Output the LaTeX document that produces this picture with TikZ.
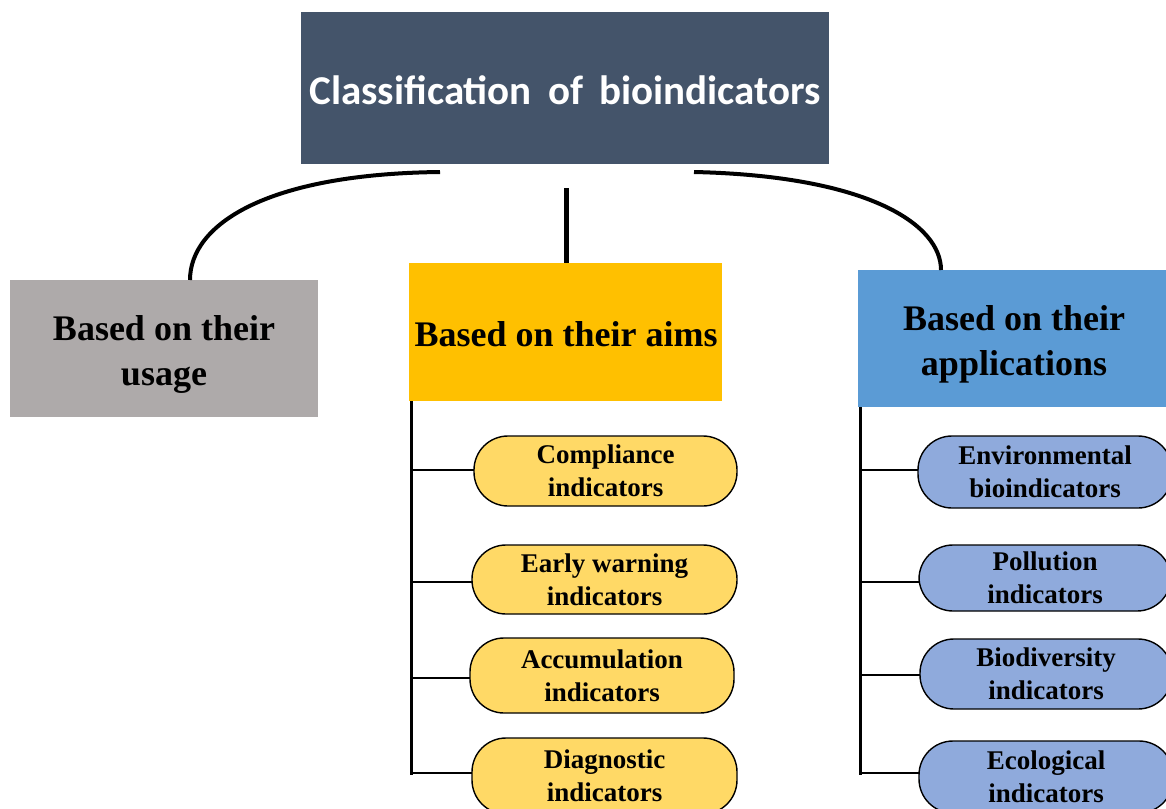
\documentclass[tikz,border=0pt]{standalone}
\usepackage{fontspec}
\setmainfont{Liberation Serif}
\newfontfamily\titlefont{Carlito}
\definecolor{titlecol}{HTML}{44546A}
\definecolor{graycol}{HTML}{AEAAAA}
\definecolor{aimcol}{HTML}{FFC000}
\definecolor{appcol}{HTML}{5B9BD5}
\definecolor{pillY}{HTML}{FFD966}
\definecolor{pillB}{HTML}{8FAADC}
\begin{document}
\begin{tikzpicture}[x=1pt,y=-1pt,
  catbox/.style={inner sep=0pt,outer sep=0pt},
  cattext/.style={inner sep=0pt,outer sep=0pt,align=center,font=\bfseries\fontsize{36}{45}\selectfont},
  pill/.style={draw=black,line width=1.4pt,rounded corners=34pt,inner sep=0pt,outer sep=0pt,align=center,font=\bfseries\fontsize{27}{33}\selectfont},
  arcline/.style={line width=4pt},
  trunk/.style={line width=3pt},
  branch/.style={line width=2pt}]
\useasboundingbox (0,0) rectangle (1166,808);
\clip (0,0) rectangle (1166,808);
\node[inner sep=0pt,outer sep=0pt,fill=titlecol,minimum width=528pt,minimum height=152pt] (title) at (565,88) {};
\node[inner sep=0pt,text=white,font=\titlefont\bfseries\fontsize{41}{48}\selectfont] (titletext) at (565,90) {Classification\, of\, bioindicators};
\node[catbox,fill=graycol,minimum width=308pt,minimum height=137pt] (usage) at (164,348.5) {};
\node[cattext] (usagetext) at (164,354) {Based on their\\usage};
\node[catbox,fill=aimcol,minimum width=313pt,minimum height=138pt] (aims) at (565.5,332) {};
\node[cattext] (aimstext) at (566,334) {Based on their aims};
\node[catbox,fill=appcol,minimum width=308pt,minimum height=137pt] (apps) at (1012,338.5) {};
\node[cattext] (appstext) at (1014,344) {Based on their\\applications};
% connectors from title
\coordinate (la) at (440,172);
\coordinate (ra) at (694,172);
\coordinate (mt) at (566,188);
\draw[arcline] (la) .. controls (265,174) and (190,225) .. (190,280);
\draw[arcline] (ra) .. controls (870,176) and (941,225) .. (941,270);
\draw[line width=5pt] (mt) -- (mt |- aims.north);
% yellow pills
\node[pill,fill=pillY,minimum width=263pt,minimum height=70pt] (y1) at (605.5,471) {Compliance\\indicators};
\node[pill,fill=pillY,minimum width=265pt,minimum height=69pt] (y2) at (604.5,579.5) {Early warning\\indicators};
\node[pill,fill=pillY,minimum width=264pt,minimum height=75pt] (y3) at (602,675.5) {Accumulation\\indicators};
\node[pill,fill=pillY,minimum width=265pt,minimum height=76pt] (y4) at (604.5,776) {Diagnostic\\indicators};
% blue pills
\node[pill,fill=pillB,minimum width=254pt,minimum height=72pt] (b1) at (1045,472) {Environmental\\bioindicators};
\node[pill,fill=pillB,minimum width=252pt,minimum height=66pt] (b2) at (1045,578) {Pollution\\indicators};
\node[pill,fill=pillB,minimum width=252pt,minimum height=70pt] (b3) at (1046,674) {Biodiversity\\indicators};
\node[pill,fill=pillB,minimum width=254pt,minimum height=72pt] (b4) at (1046,777) {Ecological\\indicators};
% trees
\coordinate (yt) at (411,401);
\coordinate (bt) at (860,407);
\draw[trunk] (yt) -- (411,775);
\draw[trunk] (bt) -- (860,775);
\foreach \n/\yy in {y1/470,y2/582,y3/678,y4/773}{
  \draw[branch] (411,\yy) -- (\n.west |- 0,\yy);
}
\foreach \n/\yy in {b1/470,b2/582,b3/675,b4/773}{
  \draw[branch] (860,\yy) -- (\n.west |- 0,\yy);
}
\end{tikzpicture}
\end{document}
